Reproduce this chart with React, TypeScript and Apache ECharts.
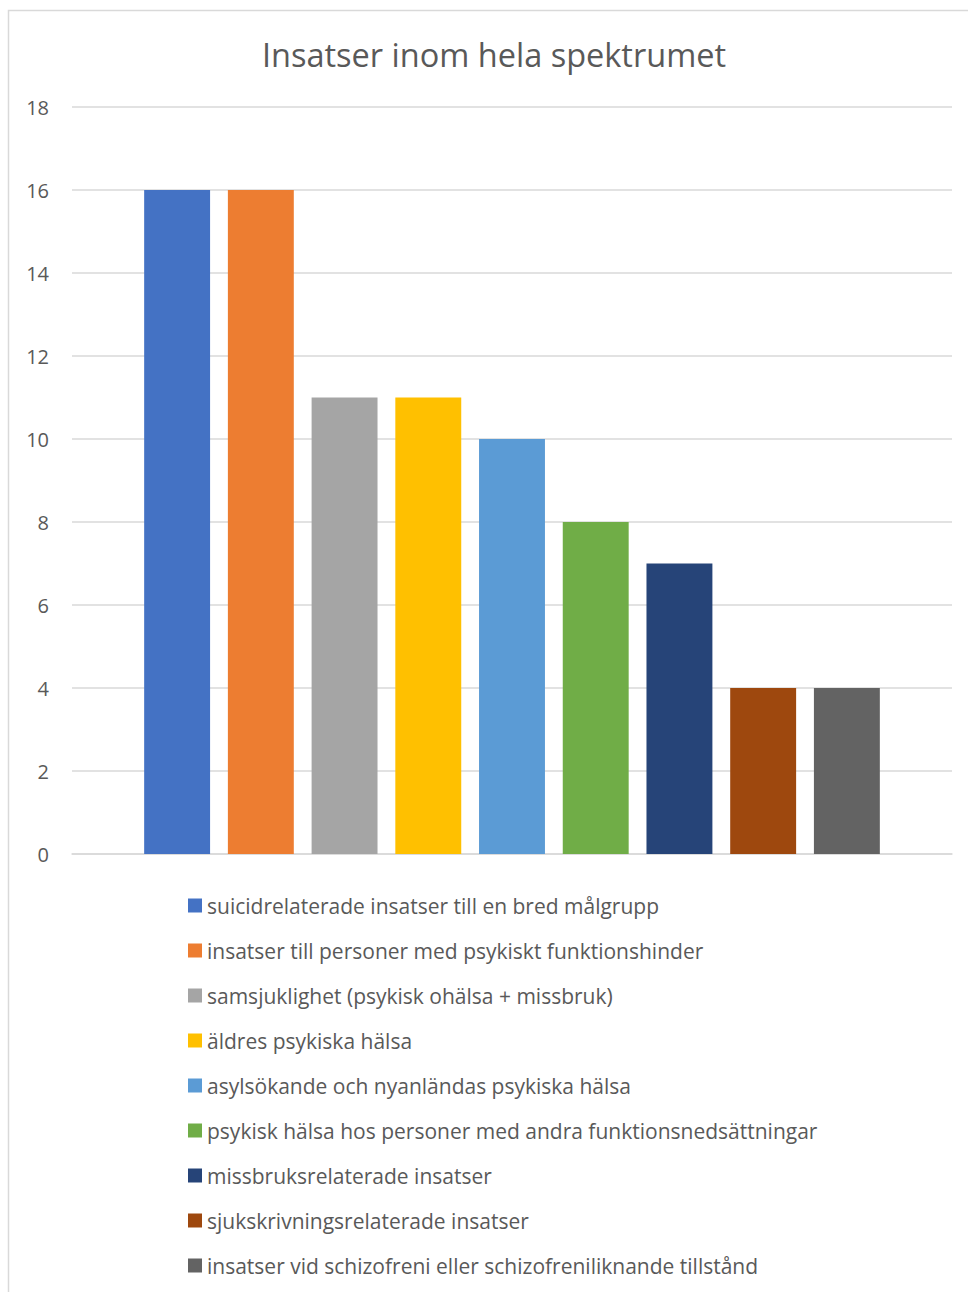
import React, { useEffect, useRef } from "react";
import * as echarts from "echarts";

const TITLE = "Insatser inom hela spektrumet";
const SERIES_NAMES = [
  "suicidrelaterade insatser till en bred målgrupp",
  "insatser till personer med psykiskt funktionshinder",
  "samsjuklighet (psykisk ohälsa + missbruk)",
  "äldres psykiska hälsa",
  "asylsökande och nyanländas psykiska hälsa",
  "psykisk hälsa hos personer med andra funktionsnedsättningar",
  "missbruksrelaterade insatser",
  "sjukskrivningsrelaterade insatser",
  "insatser vid schizofreni eller schizofreniliknande tillstånd",
];
const SERIES_VALUES = [16, 16, 11, 11, 10, 8, 7, 4, 4];
const COLORS = [
  "#4472C4",
  "#ED7D31",
  "#A5A5A5",
  "#FFC000",
  "#5B9BD5",
  "#70AD47",
  "#264478",
  "#9E480E",
  "#636363",
];
const CATEGORIES = [""];

export default function App() {
  const ref = useRef<HTMLDivElement>(null);
  useEffect(() => {
    const chart = echarts.init(ref.current!, null, { renderer: "svg" });
    const font = "'Open Sans', sans-serif";
    chart.setOption({
      animation: false,
      backgroundColor: "#ffffff",
      textStyle: { fontFamily: font },
      graphic: [
        {
          type: "rect",
          shape: { x: 8.5, y: 10.5, width: 1000, height: 1400 },
          style: { fill: "none", stroke: "#d9d9d9", lineWidth: 1.5 },
          silent: true,
        },
      ],
      title: {
        text: TITLE,
        left: 494,
        textAlign: "center",
        top: 38,
        padding: 0,
        textStyle: { fontFamily: font, fontSize: 32.5, fontWeight: "normal", color: "#595959" },
      },
      grid: { left: 72, right: 16, top: 107, height: 747 },
      xAxis: {
        type: "category",
        data: CATEGORIES,
        axisLine: { lineStyle: { color: "#d9d9d9", width: 1.5 } },
        axisTick: { show: false },
        axisLabel: { show: false },
      },
      yAxis: {
        type: "value",
        min: 0,
        max: 18,
        interval: 2,
        axisLine: { show: false },
        axisTick: { show: false },
        axisLabel: { color: "#595959", fontSize: 20, margin: 23, fontFamily: font },
        splitLine: { lineStyle: { color: "#d9d9d9", width: 1.5 } },
      },
      legend: {
        orient: "vertical",
        left: 188,
        top: 893,
        padding: 0,
        itemWidth: 14,
        itemHeight: 14,
        itemGap: 20,
        icon: "rect",
        textStyle: { color: "#595959", fontSize: 21, lineHeight: 25, fontFamily: font },
        data: SERIES_NAMES,
      },
      series: SERIES_NAMES.map((name, i) => ({
        name,
        type: "bar",
        data: [SERIES_VALUES[i]],
        itemStyle: { color: COLORS[i] },
        barGap: "27%",
        barCategoryGap: "16.4%",
      })),
    });
    return () => chart.dispose();
  }, []);
  return (
    <div
      ref={ref}
      style={{ position: "absolute", left: 0, top: 0, width: 968, height: 1292 }}
    />
  );
}
